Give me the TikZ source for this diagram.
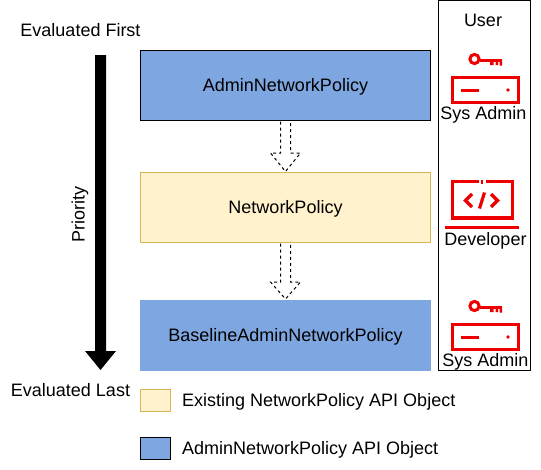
\documentclass[tikz,border=0pt]{standalone}
\usepackage{fontspec}
\setmainfont{Liberation Sans}
\usetikzlibrary{calc}
\definecolor{bluefill}{HTML}{7EA6E0}
\definecolor{yellowfill}{HTML}{FFF2CC}
\definecolor{yellowline}{HTML}{D6B656}
\definecolor{iconred}{HTML}{EE0000}
\tikzset{
  lbl/.style={font=\fontsize{18}{20}\selectfont, inner sep=0pt, text=black},
  policy/.style={lbl, text height=13pt, text depth=1pt, minimum width=290pt, minimum height=70pt, line width=1pt},
  swatch/.style={minimum width=30pt, minimum height=22pt, inner sep=0pt, line width=1.1pt},
  flow/.style={dash pattern=on 3pt off 3pt, draw=black, line width=1pt, fill=white},
  ico/.style={draw=iconred, line width=3.6pt},
  pics/keyserver/.style={code={
    \draw[iconred, line width=3pt] (0,0) circle (4.6pt);
    \draw[iconred, line width=3pt] (5,1) -- (27.5,1);
    \fill[iconred] (15.5,1) rectangle (19,6) (21,1) rectangle (23.5,6) (25,1) rectangle (27.5,6.5);
    \draw[ico] (-22,18.5) rectangle (44,43.5);
    \draw[iconred, line width=3pt] (-13.5,31) -- (4.5,31);
    \fill[iconred] (33.5,31) circle (1.8pt);
  }}
}
\begin{document}
\begin{tikzpicture}[x=1pt,y=-1pt]
\useasboundingbox (0,0) rectangle (541,469);
% user column
\node[draw=black, line width=1pt, minimum width=92pt, minimum height=370pt, inner sep=0pt] (userbox) at (484.5,185.5) {};
\node[lbl] (user) at (483,20.5) {User};
\pic at (474.5,59) {keyserver};
\pic at (474.5,306) {keyserver};
\node[lbl] (sys1) at (483.5,114.8) {Sys Admin};
\node[lbl] (dev) at (485.5,240.8) {Developer};
\node[lbl] (sys2) at (485.5,361.8) {Sys Admin};
% developer icon
\draw[ico] (478.5,181.5) -- (452.5,181.5) -- (452.5,218) -- (512.5,218) -- (512.5,181.5) -- (485.5,181.5);
\fill[iconred] (480.5,180) rectangle (483,183.5);
\draw[iconred, line width=3.4pt] (445,227.5) -- (519,227.5);
\draw[iconred, line width=3.2pt] (472,194) -- (465.5,200.5) -- (472,207);
\draw[iconred, line width=3.2pt] (491,194) -- (497.5,200.5) -- (491,207);
\draw[iconred, line width=3.2pt] (484.5,192.5) -- (479.5,208.5);
% policies
\node[policy, draw=black, fill=bluefill] (anp) at (285.5,85.5) {AdminNetworkPolicy};
\node[policy, draw=yellowline, fill=yellowfill] (np) at (285.5,207.5) {NetworkPolicy};
\node[policy, fill=bluefill, minimum width=291pt, minimum height=71pt] (banp) at (285.5,335.5) {BaselineAdminNetworkPolicy};
% flow arrows
\draw[flow] ($(anp.south)+(-5,0.5)$) -- ($(anp.south)+(-5,32)$) -- ($(anp.south)+(-15,32)$) -- ($(np.north)+(0,-0.5)$) -- ($(anp.south)+(15,32)$) -- ($(anp.south)+(5,32)$) -- ($(anp.south)+(5,0.5)$);
\draw[flow] ($(np.south)+(-5,0.5)$) -- ($(np.south)+(-5,39)$) -- ($(np.south)+(-15,39)$) -- ($(banp.north)+(0,-0.5)$) -- ($(np.south)+(15,39)$) -- ($(np.south)+(5,39)$) -- ($(np.south)+(5,0.5)$);
% priority arrow
\coordinate (ptop) at (100.5,55);
\coordinate (ptip) at (100.5,370);
\fill[black] ($(ptop)+(-5.5,0)$) -- ($(ptop)+(5.5,0)$) -- ($(ptip)+(5.5,-19)$) -- ($(ptip)+(15.5,-19)$) -- (ptip) -- ($(ptip)+(-15.5,-19)$) -- ($(ptip)+(-5.5,-19)$) -- cycle;
\node[lbl] (first) at (80.5,30.5) {Evaluated First};
\node[lbl] (last) at (70.5,390.5) {Evaluated Last};
\node[lbl, rotate=90] (prio) at (80,214) {Priority};
% legend
\node[swatch, draw=yellowline, fill=yellowfill] (s1) at (155.5,400.5) {};
\node[swatch, draw=black, fill=bluefill] (s2) at (155.5,448.5) {};
\node[lbl, anchor=west] (l1) at (182,402) {Existing NetworkPolicy API Object};
\node[lbl, anchor=west] (l2) at (182,450) {AdminNetworkPolicy API Object};
\end{tikzpicture}
\end{document}
